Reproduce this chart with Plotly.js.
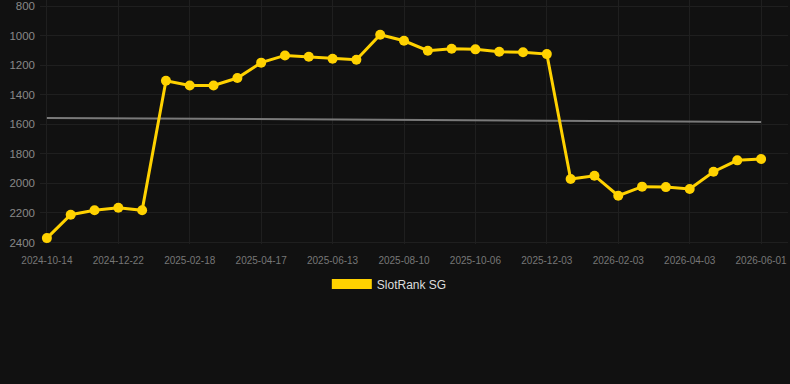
<!DOCTYPE html>
<html>
<head>
<meta charset="utf-8">
<script src="https://cdn.plot.ly/plotly-3.0.1.min.js"></script>
<style>
html,body{margin:0;padding:0;background:#111111;}
#chart{width:790px;height:384px;}
</style>
</head>
<body>
<div id="chart"></div>
<script>
// Dates (every third one is labelled on the axis)
const dates = [
  "2024-10-14","2024-11-06","2024-11-29",
  "2024-12-22","2025-01-10","2025-01-30",
  "2025-02-18","2025-03-09","2025-03-29",
  "2025-04-17","2025-05-06","2025-05-25",
  "2025-06-13","2025-07-02","2025-07-21",
  "2025-08-10","2025-08-29","2025-09-17",
  "2025-10-06","2025-10-25","2025-11-14",
  "2025-12-03","2025-12-24","2026-01-13",
  "2026-02-03","2026-02-23","2026-03-14",
  "2026-04-03","2026-04-22","2026-05-12",
  "2026-06-01"
];
const rankSG = [
  2370, 2212, 2182, 2165, 2182,
  1305, 1337, 1337, 1287, 1183,
  1134, 1143, 1156, 1163, 994,
  1035, 1102, 1089, 1093, 1109,
  1113, 1125, 1970, 1948, 2083,
  2022, 2025, 2038, 1921, 1844,
  1835
];
const trendX = ["2024-10-14", "2026-06-01"];
const trendY = [1557, 1584];
const tickDates = dates.filter((d, i) => i % 3 === 0);
const yTicks = [800, 1000, 1200, 1400, 1600, 1800, 2000, 2200, 2400];
const seriesName = "SlotRank SG";

const gold = "#FFD200";

const traces = [
  {
    x: trendX, y: trendY, type: "scatter", mode: "lines",
    line: {color: "#7a7a7a", width: 2},
    showlegend: false, hoverinfo: "skip"
  },
  {
    x: dates, y: rankSG, type: "scatter", mode: "lines+markers",
    name: seriesName,
    line: {color: gold, width: 3},
    marker: {color: gold, size: 10},
    showlegend: false
  },
  {
    x: [null], y: [null], type: "scatter", mode: "lines",
    name: seriesName,
    line: {color: gold, width: 11},
    showlegend: true
  }
];

const layout = {
  width: 790, height: 384,
  paper_bgcolor: "#111111",
  plot_bgcolor: "#111111",
  margin: {l: 40, r: 2, t: 0, b: 140, autoexpand: false},
  font: {family: "Liberation Sans, Arial, sans-serif", color: "#888888"},
  xaxis: {
    type: "category",
    categoryorder: "array",
    categoryarray: dates,
    range: [-0.29, 31.13],
    tickvals: tickDates,
    ticktext: tickDates,
    tickfont: {size: 10, color: "#777777"},
    gridcolor: "#1f1f1f",
    showline: false,
    zeroline: false,
    ticks: "",
    tickangle: 0,
    ticklabelstandoff: 9,
    automargin: false
  },
  yaxis: {
    range: [2410, 759],
    tickvals: yTicks,
    tickfont: {size: 11.5, color: "#888888"},
    gridcolor: "#1f1f1f",
    zeroline: false,
    showline: false,
    ticks: "",
    ticklabelstandoff: 4,
    ticklabeloverflow: "allow",
    automargin: false
  },
  legend: {
    orientation: "h",
    x: 0.467, xanchor: "center",
    y: -0.105, yanchor: "top",
    itemwidth: 40,
    font: {size: 12, color: "#dddddd"},
    bgcolor: "rgba(0,0,0,0)"
  },
  showlegend: true
};

Plotly.newPlot("chart", traces, layout, {displayModeBar: false, staticPlot: true});
</script>
</body>
</html>
